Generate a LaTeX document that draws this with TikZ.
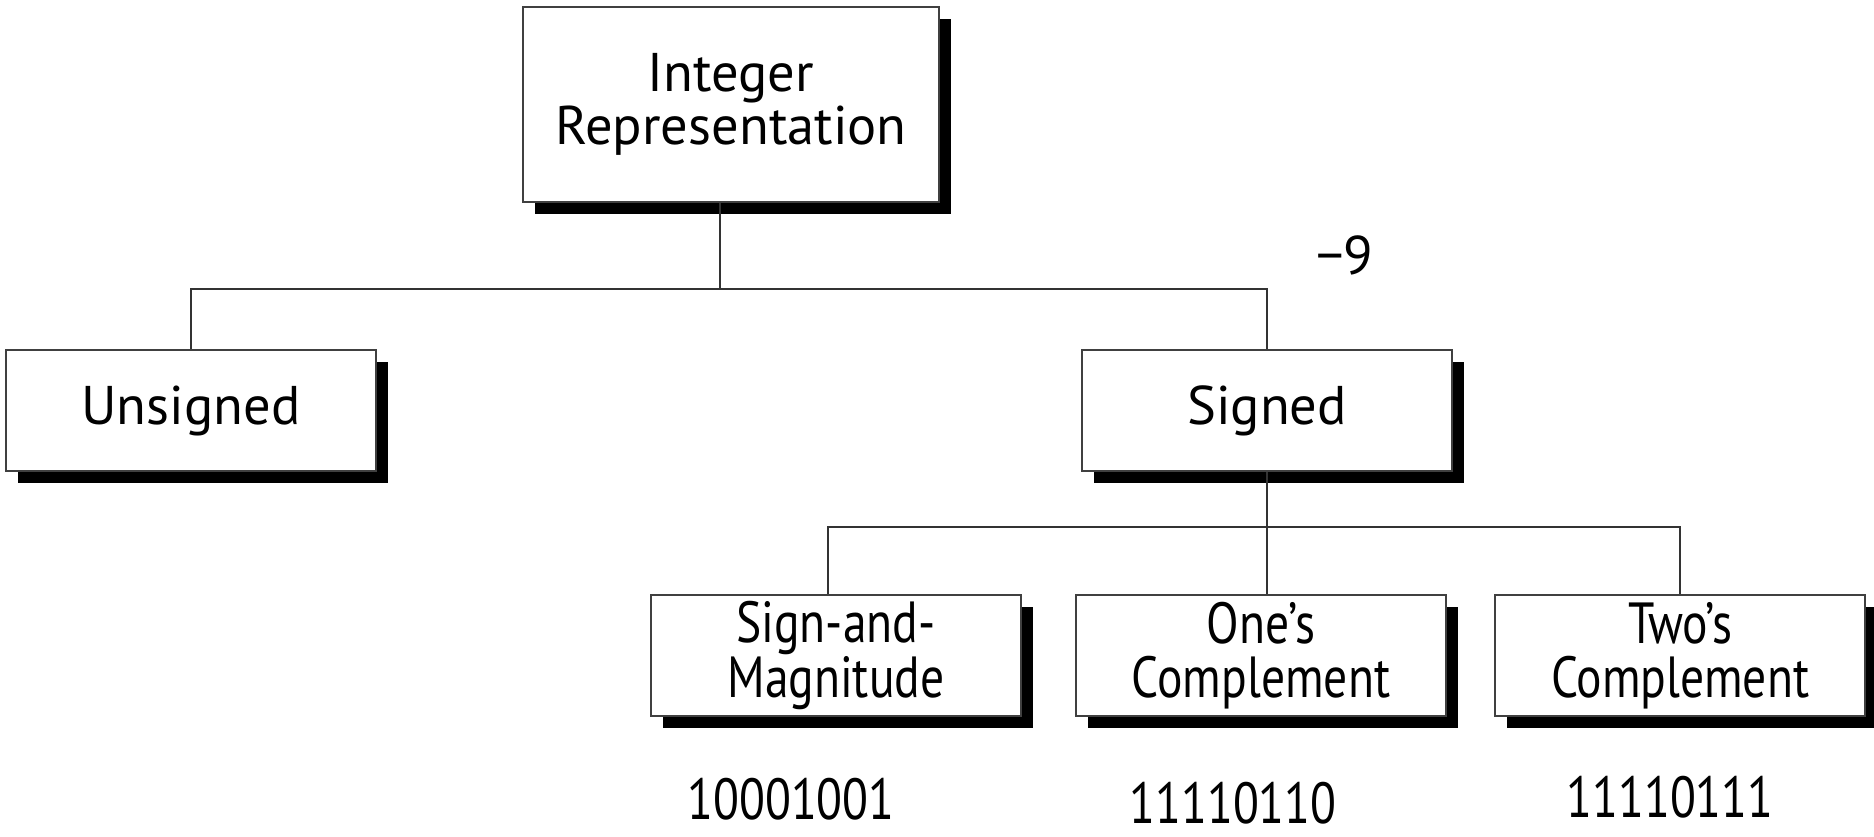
\documentclass[tikz,border=0pt]{standalone}
\usepackage{fontspec}
\setmainfont{PT Sans}
\newfontfamily\narrowfont[FakeStretch=0.82]{PT Sans}
\usetikzlibrary{positioning,shadows}

\begin{document}
\begin{tikzpicture}[font=\fontsize{15.5}{14}\selectfont,
  box/.style={draw=black!75,line width=0.6pt,fill=white,align=center,inner sep=0pt,
    minimum width=3.70cm,minimum height=1.21cm,
    drop shadow={shadow xshift=0.12cm,shadow yshift=-0.12cm,fill=black,opacity=1}},
  wire/.style={draw=black!80,line width=0.5pt},
  bits/.style={font=\narrowfont\fontsize{16.5}{16.5}\selectfont,inner sep=0pt}]
\useasboundingbox (0,0) rectangle (18.74,8.36);
\node[box,minimum width=4.16cm,minimum height=1.95cm] (top) at (7.31,7.315) {Integer\\Representation};
\node[box] (signed) at (12.67,4.255) {Signed};
\node[box,left=7.04cm of signed] (unsigned) {Unsigned};
\node[box,below=1.22cm of signed,xshift=-0.6mm,font=\narrowfont\fontsize{16.5}{15.5}\selectfont] (ones) {One’s\\Complement};
\node[box,left=0.53cm of ones,font=\narrowfont\fontsize{16.5}{15.5}\selectfont] (sam) {Sign-and-\\Magnitude};
\node[box,right=0.47cm of ones,font=\narrowfont\fontsize{16.5}{15.5}\selectfont] (twos) {Two’s\\Complement};
\node[inner sep=0pt] (minus) at (13.45,5.81) {−9};
\node[bits] (samval) at (7.91,0.37) {10001001};
\node[bits] (onesval) at (12.33,0.33) {11110110};
\node[bits] (twosval) at (16.70,0.39) {11110111};
\coordinate (busA) at (7.20,5.47);
\coordinate (busB) at (signed.south |- 0,3.09);
\draw[wire] ([xshift=-1.1mm]top.south) -- (busA);
\draw[wire] (busA) -| (unsigned.north);
\draw[wire] (busA) -| (signed.north);
\draw[wire] (signed.south) -- (busB);
\draw[wire] (busB) -| ([xshift=-0.8mm]sam.north);
\draw[wire] (busB) -- (busB |- ones.north);
\draw[wire] (busB) -| (twos.north);
\end{tikzpicture}
\end{document}
